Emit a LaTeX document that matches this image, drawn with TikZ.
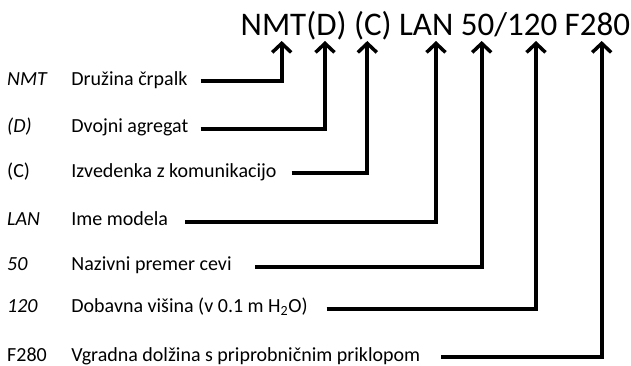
\documentclass[tikz,border=0pt]{standalone}
\usepackage{fontspec}
\setmainfont{Carlito}
\usetikzlibrary{arrows.meta}
\begin{document}
\begin{tikzpicture}[x=1pt,y=-1pt,
  lbl/.style={anchor=base west,inner sep=0pt,font=\fontsize{20}{24}\selectfont},
  title/.style={anchor=base west,inner sep=0pt,font=\fontsize{33}{40}\selectfont},
  conn/.style={line width=4pt,line join=miter,-{Straight Barb[length=9pt,width=19pt,line width=3.5pt]}}]
\useasboundingbox (0,0) rectangle (631,365);
\node[title] (t) at (240.5,35) {NMT(D) (C) LAN 50/120 F280};
% abbreviations
\node[lbl] (a1) at (7,85) {\itshape NMT};
\node[lbl] (a2) at (7,132.5) {\itshape (D)};
\node[lbl] (a3) at (7,177) {(C)};
\node[lbl] (a4) at (7,225.5) {\itshape LAN};
\node[lbl] (a5) at (7,270.2) {\itshape 50};
\node[lbl] (a6) at (7,312.8) {\itshape 120};
\node[lbl] (a7) at (7,361) {F280};
% descriptions
\node[lbl] (d1) at (71.2,85) {Družina črpalk};
\node[lbl] (d2) at (71.2,132.5) {Dvojni agregat};
\node[lbl] (d3) at (71.2,177) {Izvedenka z komunikacijo};
\node[lbl] (d4) at (71.2,225.5) {Ime modela};
\node[lbl] (d5) at (71.2,270.2) {Nazivni premer cevi};
\node[lbl] (d6) at (71.2,312.8) {Dobavna višina (v 0.1 m H\textsubscript{2}O)};
\node[lbl] (d7) at (71.2,361) {Vgradna dolžina s priprobničnim priklopom};
% connector start points
\coordinate (s1) at (200.7,81.3);
\coordinate (s2) at (200.7,129);
\coordinate (s3) at (291.7,173.3);
\coordinate (s4) at (185,222);
\coordinate (s5) at (255,266.7);
\coordinate (s6) at (326.7,309.3);
\coordinate (s7) at (441,356.7);
% arrow tips
\coordinate (e1) at (281.7,41);
\coordinate (e2) at (325,41);
\coordinate (e3) at (367.3,41);
\coordinate (e4) at (436,41);
\coordinate (e5) at (481.7,41);
\coordinate (e6) at (536,41);
\coordinate (e7) at (601.7,41);
\foreach \i in {1,...,7}{
  \draw[conn] (s\i) -| (e\i);
}
\end{tikzpicture}
\end{document}
